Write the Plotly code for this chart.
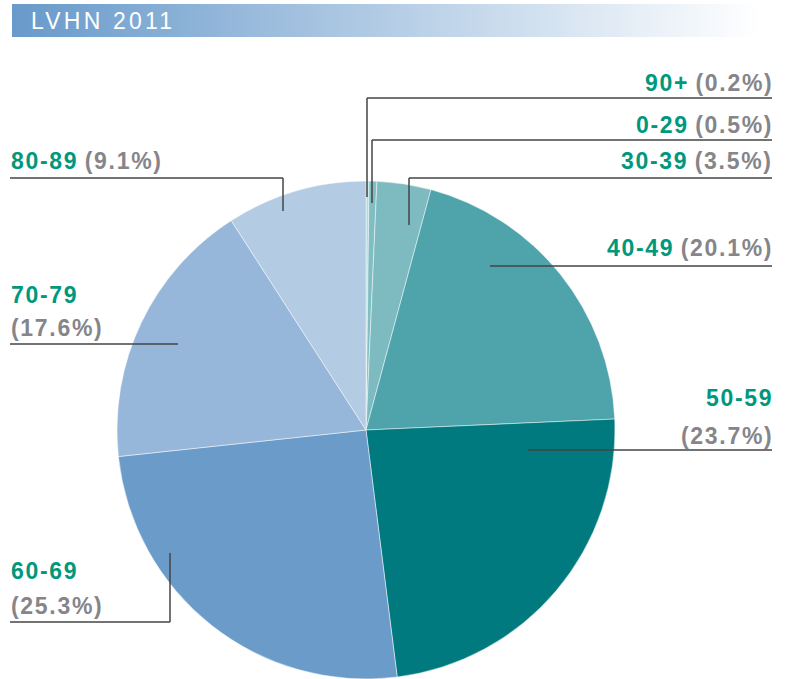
import plotly.graph_objects as go

# ---------------- data ----------------
age_groups = ["90+", "0-29", "30-39", "40-49", "50-59", "60-69", "70-79", "80-89"]
percentages = [0.2, 0.5, 3.5, 20.1, 23.7, 25.3, 17.6, 9.1]
slice_colors = ["#b2dcda", "#80bec3", "#7dbbc1", "#4fa4ab", "#007a7f",
                "#6a9bc9", "#96b7d9", "#b3cbe3"]
title_text = "LVHN 2011"

W, H = 786, 679
GREEN = "#00987c"
GRAY = "#85858a"
LINE = "#444444"


def px(x):
    return x / W


def py(y):
    return 1 - y / H


# pie geometry (pixels)
cx, cy, r = 366, 430, 249

fig = go.Figure()
fig.add_trace(go.Pie(
    labels=age_groups,
    values=percentages,
    sort=False,
    direction="clockwise",
    rotation=0,
    marker=dict(colors=slice_colors, line=dict(color="rgba(255,255,255,0.6)", width=0.8)),
    textinfo="none",
    hoverinfo="label+percent",
    domain=dict(x=[px(cx - r), px(cx + r)], y=[py(cy + r), py(cy - r)]),
    showlegend=False,
))

shapes = []
annotations = []

# header gradient band
x0b, x1b, y0b, y1b = 12, 762, 4, 37
n = 150
c0 = (104, 154, 203)
c1 = (255, 255, 255)
for i in range(n):
    t = i / (n - 1)
    col = tuple(int(round(c0[k] + (c1[k] - c0[k]) * t)) for k in range(3))
    xa = x0b + (x1b - x0b) * i / n
    xb = x0b + (x1b - x0b) * (i + 1) / n + 0.6
    shapes.append(dict(type="rect", xref="paper", yref="paper",
                       x0=px(xa), x1=px(min(xb, x1b)), y0=py(y1b), y1=py(y0b),
                       fillcolor="rgb(%d,%d,%d)" % col, line=dict(width=0), layer="below"))

annotations.append(dict(
    xref="paper", yref="paper", x=px(29), y=py(20.5), xanchor="left", yanchor="middle",
    text='<span style="letter-spacing:3.2px">%s</span>' % title_text,
    showarrow=False, font=dict(family="Liberation Sans, Arial", size=23, color="white")))

FONT = "Liberation Sans, Arial"
FS = 23
LS = "1.7px"

# label layout: (index, side, text rows y-centres, underline y, anchor x, anchor y)
layout_specs = [
    (0, "right", [83], 98, 367, 197),
    (1, "right", [125], 140, 372, 203),
    (2, "right", [161], 178, 409, 225),
    (3, "right", [248], 266, 490, 266),
    (4, "right", [398, 436], 450, 528, 450),
    (5, "left", [571, 606], 622, 170, 553),
    (6, "left", [295, 328], 344, 178, 344),
    (7, "left", [161], 178, 283, 211),
]

for idx, side, rows, ly, ax, ay in layout_specs:
    name = age_groups[idx]
    pct = percentages[idx]
    gtxt = '<span style="letter-spacing:%s;color:%s">%s</span>' % (LS, GREEN, name)
    ptxt = '<span style="letter-spacing:%s;color:%s">(%s%%)</span>' % (LS, GRAY, pct)
    if side == "right":
        xo = 772
        xt = 775
        xanchor = "right"
    else:
        xo = 10
        xt = 9
        xanchor = "left"
    if len(rows) == 1:
        annotations.append(dict(xref="paper", yref="paper", x=px(xt), y=py(rows[0]),
                                xanchor=xanchor, yanchor="middle",
                                text="<b>%s %s</b>" % (gtxt, ptxt), showarrow=False,
                                font=dict(family=FONT, size=FS)))
    else:
        annotations.append(dict(xref="paper", yref="paper", x=px(xt), y=py(rows[0]),
                                xanchor=xanchor, yanchor="middle",
                                text="<b>%s</b>" % gtxt, showarrow=False,
                                font=dict(family=FONT, size=FS)))
        annotations.append(dict(xref="paper", yref="paper", x=px(xt), y=py(rows[1]),
                                xanchor=xanchor, yanchor="middle",
                                text="<b>%s</b>" % ptxt, showarrow=False,
                                font=dict(family=FONT, size=FS)))
    # underline / leader horizontal
    shapes.append(dict(type="line", xref="paper", yref="paper",
                       x0=px(xo), x1=px(ax), y0=py(ly), y1=py(ly),
                       line=dict(color=LINE, width=1.5)))
    if ay != ly:
        shapes.append(dict(type="line", xref="paper", yref="paper",
                           x0=px(ax), x1=px(ax), y0=py(ly), y1=py(ay),
                           line=dict(color=LINE, width=1.5)))

fig.update_layout(
    width=W, height=H,
    margin=dict(l=0, r=0, t=0, b=0),
    paper_bgcolor="white",
    plot_bgcolor="white",
    shapes=shapes,
    annotations=annotations,
)

fig.write_html("out.html", config={"displayModeBar": False},
               post_script="document.body.style.margin='0px';document.body.style.overflow='hidden';")
